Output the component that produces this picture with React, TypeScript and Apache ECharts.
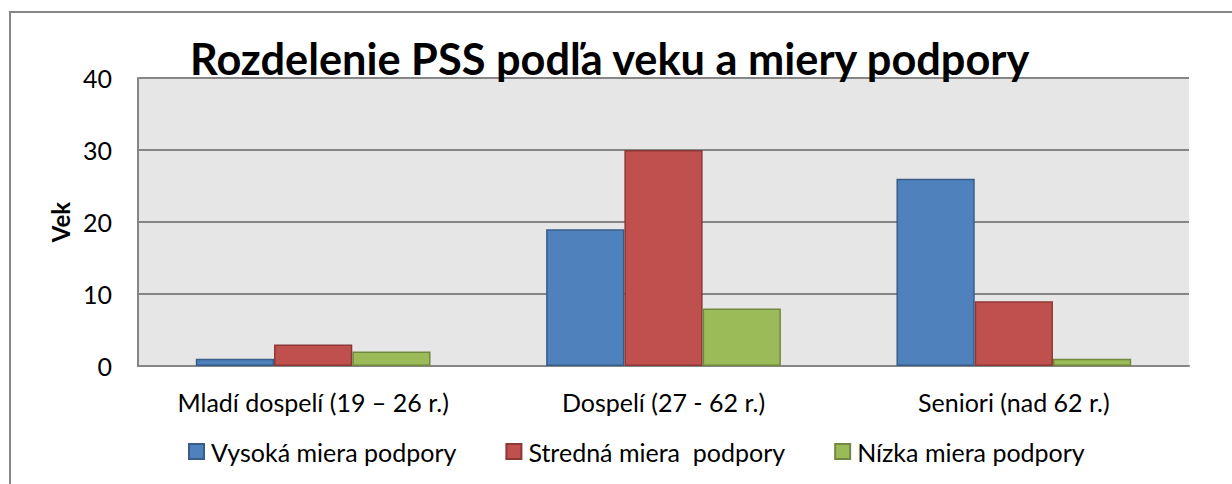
import React, { useEffect, useRef } from "react";
import * as echarts from "echarts";

const categories = ["Mladí dospelí (19 – 26 r.)", "Dospelí (27 - 62 r.)", "Seniori (nad 62 r.)"];
const seriesNames = ["Vysoká miera podpory", "Stredná miera  podpory", "Nízka miera podpory"];
const vysoka = [1, 19, 26];
const stredna = [3, 30, 9];
const nizka = [2, 8, 1];
const yTicks = [0, 10, 20, 30, 40];

const FONT = "Lato, 'Noto Sans', sans-serif";

export default function App() {
  const ref = useRef<HTMLDivElement>(null);
  useEffect(() => {
    if (!ref.current) return;
    const chart = echarts.init(ref.current, undefined, { renderer: "svg" });
    const colors = ["#4F81BD", "#C0504D", "#9BBB59"];
    const borders = ["#385D8A", "#8C3836", "#71893F"];
    const data = [vysoka, stredna, nizka];
    chart.setOption({
      animation: false,
      backgroundColor: "#ffffff",
      textStyle: { fontFamily: FONT, color: "#000" },
      title: {
        text: "Rozdelenie PSS podľa veku a miery podpory",
        left: 185,
        top: 31,
        textStyle: { fontFamily: FONT, fontSize: 43.3, fontWeight: "bold", color: "#000" },
      },
      graphic: [
        {
          type: "rect",
          shape: { x: 10, y: 12, width: 1240, height: 500 },
          style: { fill: "none", stroke: "#868686", lineWidth: 2 },
          z: 100,
        },
      ],
      grid: {
        left: 138,
        right: 43,
        top: 78,
        bottom: 118,
        show: true,
        backgroundColor: "#E6E6E6",
        borderWidth: 0,
      },
      legend: {
        top: 439,
        left: 188,
        padding: 0,
        itemWidth: 15,
        itemHeight: 15,
        itemGap: 49,
        icon: "rect",
        textStyle: { fontFamily: FONT, fontSize: 25, color: "#000", padding: [0, 0, 0, 2] },
        data: seriesNames,
      },
      xAxis: {
        type: "category",
        data: categories,
        axisLine: { show: true, lineStyle: { color: "#868686", width: 2 } },
        axisTick: { show: false },
        axisLabel: { fontFamily: FONT, fontSize: 25, color: "#000", margin: 23, interval: 0 },
      },
      yAxis: {
        type: "value",
        min: yTicks[0],
        max: yTicks[yTicks.length - 1],
        interval: 10,
        name: "Vek",
        nameLocation: "middle",
        nameGap: 66,
        nameTextStyle: { fontFamily: FONT, fontSize: 24, fontWeight: "bold", color: "#000" },
        axisLine: { show: true, lineStyle: { color: "#868686", width: 2 } },
        axisTick: { show: false },
        axisLabel: { fontFamily: FONT, fontSize: 25, color: "#000", margin: 26 },
        splitLine: { show: true, lineStyle: { color: "#868686", width: 2 } },
      },
      series: seriesNames.map((name, i) => ({
        name,
        type: "bar",
        data: data[i],
        barGap: "0%",
        barCategoryGap: "33%",
        itemStyle: { color: colors[i], borderColor: borders[i], borderWidth: 1.5 },
      })),
    });
    return () => chart.dispose();
  }, []);
  return (
    <div
      ref={ref}
      style={{ position: "fixed", left: 0, top: 0, width: 1232, height: 484 }}
    />
  );
}
